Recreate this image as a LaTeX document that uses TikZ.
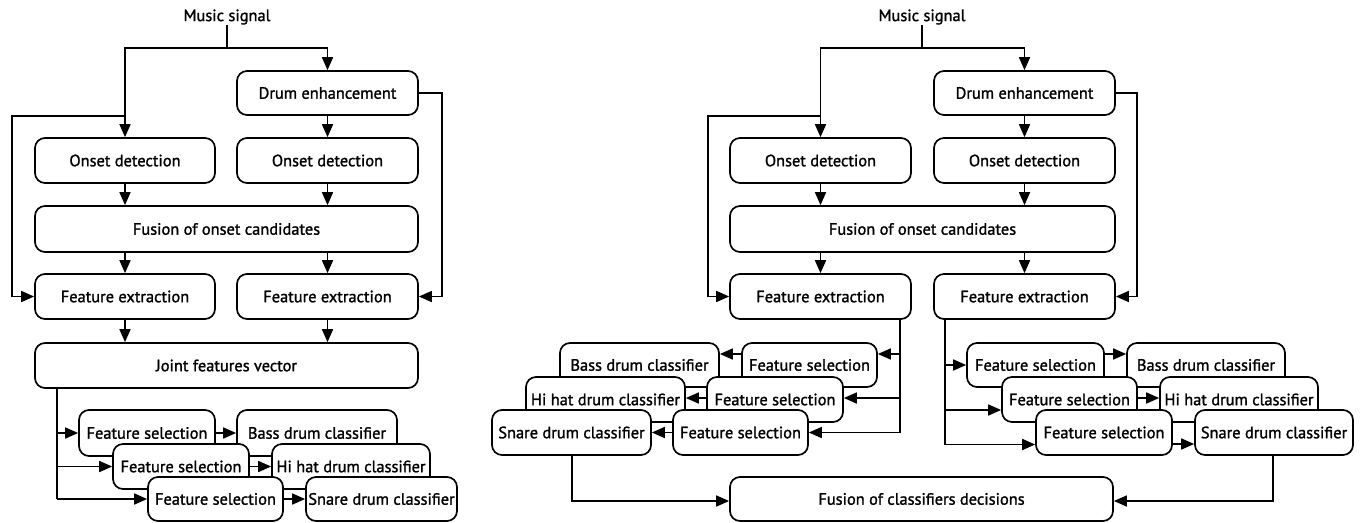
\documentclass[tikz,border=0pt]{standalone}
\usepackage{fontspec}
\setmainfont{PT Sans}[BoldFont=PT Sans,BoldFeatures={FakeBold=1.4}]
\usetikzlibrary{arrows.meta}
\begin{document}
\begin{tikzpicture}[x=1pt,y=-1pt,
  box/.style={draw,fill=white,rounded corners=10pt,line width=1.7pt,inner sep=0pt,font=\fontsize{16.4}{19}\selectfont\bfseries},
  lbl/.style={inner sep=0pt,font=\fontsize{16.4}{19}\selectfont\bfseries},
  ln/.style={line width=1.7pt},
  arr/.style={line width=1.7pt,-{Triangle[length=13pt,width=11pt]}}]
\useasboundingbox (0,0) rectangle (1362,522);
\fill[white] (0,0) rectangle (1362,522);
% ================= LEFT DIAGRAM =================
\node[lbl] (ms1) at (227,17) {Music signal};
\node[box,minimum width=181pt,minimum height=44pt] (de1) at (327.5,93) {Drum enhancement};
\node[box,minimum width=180pt,minimum height=45pt] (od1a) at (125,160.5) {Onset detection};
\node[box,minimum width=181pt,minimum height=45pt] (od1b) at (327.5,160.5) {Onset detection};
\node[box,minimum width=383pt,minimum height=46pt] (fu1) at (226.5,229) {Fusion of onset candidates};
\node[box,minimum width=180pt,minimum height=45pt] (fe1a) at (125,296.5) {Feature extraction};
\node[box,minimum width=181pt,minimum height=45pt] (fe1b) at (327.5,296.5) {Feature extraction};
\node[box,minimum width=383pt,minimum height=45pt] (jf1) at (226.5,365.5) {Joint features vector};
\node[box,minimum width=136pt,minimum height=46pt] (fs1a) at (147,433) {Feature selection};
\node[box,minimum width=160pt,minimum height=46pt] (bd1) at (317,433) {Bass drum classifier};
\node[box,minimum width=136pt,minimum height=45pt] (fs1b) at (181,466.5) {Feature selection};
\node[box,minimum width=158pt,minimum height=45pt] (hh1) at (351,466.5) {Hi hat drum classifier};
\node[box,minimum width=135pt,minimum height=44pt] (fs1c) at (215.5,499) {Feature selection};
\node[box,minimum width=151pt,minimum height=44pt] (sn1) at (381.5,499) {Snare drum classifier};
\coordinate (j1) at (227,48);
\coordinate (b1) at (125,116);
\coordinate (b1l) at (12,116);
\coordinate (b1r) at (442,93);
\coordinate (v1) at (57,388);
\draw[ln] (ms1) -- (j1);
\draw[arr] (j1) -| (od1a);
\draw[arr] (j1) -| (de1);
\draw[arr] (b1) -- (b1l) |- (fe1a.west);
\draw[arr] (de1.east) -- (b1r) |- (fe1b.east);
\draw[arr] (de1) -- (od1b);
\draw[arr] (od1a) -- (od1a |- fu1.north);
\draw[arr] (od1b) -- (od1b |- fu1.north);
\draw[arr] (fu1.south -| fe1a) -- (fe1a);
\draw[arr] (fu1.south -| fe1b) -- (fe1b);
\draw[arr] (fe1a) -- (fe1a |- jf1.north);
\draw[arr] (fe1b) -- (fe1b |- jf1.north);
\draw[ln] (v1) -- (v1 |- fs1c.west);
\draw[arr] (v1 |- fs1a.west) -- (fs1a.west);
\draw[arr] (v1 |- fs1b.west) -- (fs1b.west);
\draw[arr] (v1 |- fs1c.west) -- (fs1c.west);
\draw[arr] (fs1a) -- (bd1);
\draw[arr] (fs1b) -- (hh1);
\draw[arr] (fs1c) -- (sn1);
% ================= RIGHT DIAGRAM =================
\node[lbl] (ms2) at (922,17) {Music signal};
\node[box,minimum width=181pt,minimum height=44pt] (de2) at (1024.5,93) {Drum enhancement};
\node[box,minimum width=181pt,minimum height=45pt] (od2a) at (820.5,160.5) {Onset detection};
\node[box,minimum width=181pt,minimum height=45pt] (od2b) at (1024.5,160.5) {Onset detection};
\node[box,minimum width=385pt,minimum height=46pt] (fu2) at (922.5,229) {Fusion of onset candidates};
\node[box,minimum width=181pt,minimum height=45pt] (fe2a) at (820.5,296.5) {Feature extraction};
\node[box,minimum width=181pt,minimum height=45pt] (fe2b) at (1024.5,296.5) {Feature extraction};
% left group
\node[box,minimum width=159pt,minimum height=44pt] (bd2) at (639.5,365) {Bass drum classifier};
\node[box,minimum width=135pt,minimum height=44pt] (fs2a) at (809.5,365) {Feature selection};
\node[box,minimum width=159pt,minimum height=45pt] (hh2) at (605.5,399.5) {Hi hat drum classifier};
\node[box,minimum width=136pt,minimum height=45pt] (fs2b) at (775,399.5) {Feature selection};
\node[box,minimum width=159pt,minimum height=45pt] (sn2) at (571.5,432.5) {Snare drum classifier};
\node[box,minimum width=135pt,minimum height=45pt] (fs2c) at (740.5,432.5) {Feature selection};
% right group
\node[box,minimum width=137pt,minimum height=44pt] (fs2d) at (1035.5,365) {Feature selection};
\node[box,minimum width=158pt,minimum height=44pt] (bd2b) at (1206,365) {Bass drum classifier};
\node[box,minimum width=135pt,minimum height=45pt] (fs2e) at (1069.5,399.5) {Feature selection};
\node[box,minimum width=158pt,minimum height=45pt] (hh2b) at (1239,399.5) {Hi hat drum classifier};
\node[box,minimum width=136pt,minimum height=45pt] (fs2f) at (1104,432.5) {Feature selection};
\node[box,minimum width=158pt,minimum height=45pt] (sn2b) at (1274,432.5) {Snare drum classifier};
\node[box,minimum width=383pt,minimum height=44pt] (fcd) at (921.5,499) {Fusion of classifiers decisions};
\coordinate (j2) at (922,48);
\coordinate (b2) at (821,116);
\coordinate (b2l) at (708,116);
\coordinate (b2r) at (1137,93);
\coordinate (v2) at (900,319);
\coordinate (v3) at (945,319);
\coordinate (c1) at (572,501);
\coordinate (c2) at (1273,501);
% anchor points
\coordinate (pa) at ([yshift=11pt]fs2a.east);
\coordinate (pb) at ([yshift=1.5pt]fs2b.east);
\coordinate (pc) at (fs2c.east);
\coordinate (qa) at ([yshift=11pt]fs2a.west);
\coordinate (qb) at ([yshift=1.5pt]fs2b.west);
\coordinate (ra) at (fs2d.west);
\coordinate (rb) at ([yshift=-10.5pt]fs2e.west);
\coordinate (rc) at ([yshift=-12pt]fs2f.west);
\coordinate (sa) at ([yshift=11pt]fs2d.east);
\coordinate (sb) at ([yshift=1.5pt]fs2e.east);
\coordinate (sc) at ([yshift=-11.5pt]fs2f.east);
\draw[ln] (ms2) -- (j2);
\draw[arr] (j2) -| (od2a);
\draw[arr] (j2) -| (de2);
\draw[arr] (b2) -- (b2l) |- (fe2a.west);
\draw[arr] (de2.east) -- (b2r) |- (fe2b.east);
\draw[arr] (de2) -- (od2b);
\draw[arr] (od2a) -- (od2a |- fu2.north);
\draw[arr] (od2b) -- (od2b |- fu2.north);
\draw[arr] (fu2.south -| fe2a) -- (fe2a);
\draw[arr] (fu2.south -| fe2b) -- (fe2b);
% left group connectors
\draw[ln] (v2) -- (v2 |- pc);
\draw[arr] (v2 |- pa) -- (pa);
\draw[arr] (v2 |- pb) -- (pb);
\draw[arr] (v2 |- pc) -- (pc);
\draw[arr] (qa) -- (bd2.east |- qa);
\draw[arr] (qb) -- (hh2.east |- qb);
\draw[arr] (fs2c.west) -- (sn2.east);
% right group connectors
\draw[ln] (v3) -- (v3 |- rc);
\draw[arr] (v3 |- ra) -- (ra);
\draw[arr] (v3 |- rb) -- (rb);
\draw[arr] (v3 |- rc) -- (rc);
\draw[arr] (sa) -- (bd2b.west |- sa);
\draw[arr] (sb) -- (hh2b.west |- sb);
\draw[arr] (sc) -- (sn2b.west |- sc);
\draw[arr] (sn2.south -| c1) -- (c1) -- (fcd.west |- c1);
\draw[arr] (sn2b.south -| c2) -- (c2) -- (fcd.east |- c2);
\end{tikzpicture}
\end{document}
